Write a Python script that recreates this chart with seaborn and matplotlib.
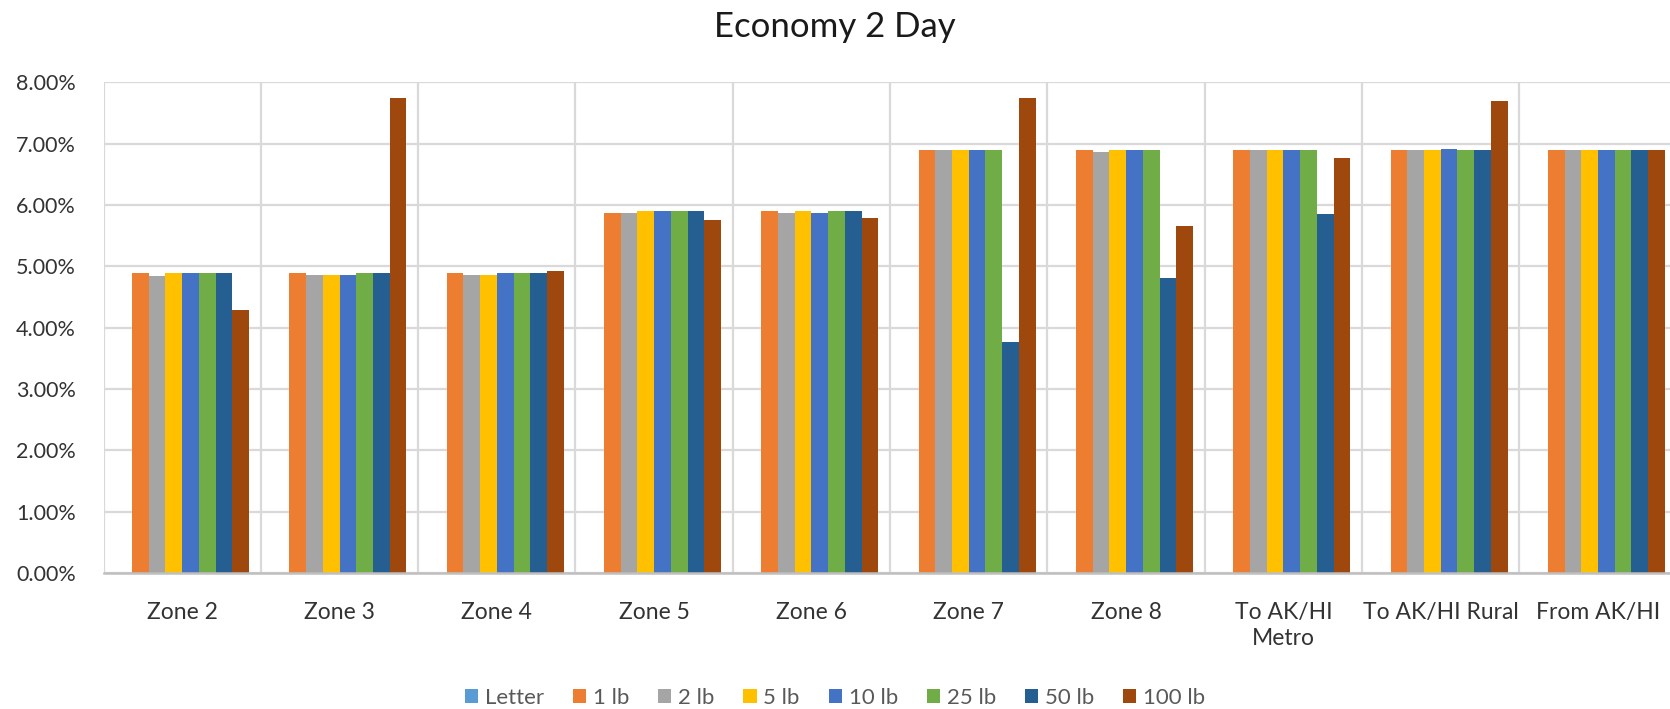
import matplotlib
matplotlib.use("Agg")
import matplotlib.pyplot as plt
import seaborn as sns
import pandas as pd
import numpy as np
from matplotlib.patches import Patch
from matplotlib.ticker import FuncFormatter, MultipleLocator

categories = ["Zone 2", "Zone 3", "Zone 4", "Zone 5", "Zone 6", "Zone 7", "Zone 8",
              "To AK/HI\nMetro", "To AK/HI Rural", "From AK/HI"]
series = ["Letter", "1 lb", "2 lb", "5 lb", "10 lb", "25 lb", "50 lb", "100 lb"]

letter = [np.nan] * 10
lb1   = [4.89, 4.89, 4.89, 5.87, 5.90, 6.89, 6.89, 6.89, 6.89, 6.89]
lb2   = [4.84, 4.86, 4.86, 5.86, 5.87, 6.89, 6.87, 6.89, 6.89, 6.89]
lb5   = [4.89, 4.86, 4.86, 5.90, 5.90, 6.89, 6.89, 6.89, 6.89, 6.89]
lb10  = [4.89, 4.86, 4.89, 5.90, 5.87, 6.89, 6.89, 6.89, 6.91, 6.89]
lb25  = [4.89, 4.89, 4.89, 5.90, 5.90, 6.89, 6.89, 6.89, 6.89, 6.89]
lb50  = [4.89, 4.89, 4.89, 5.90, 5.90, 3.77, 4.81, 5.85, 6.89, 6.89]
lb100 = [4.29, 7.74, 4.93, 5.76, 5.78, 7.74, 5.65, 6.77, 7.69, 6.89]

colors = ["#5B9BD5", "#ED7D31", "#A5A5A5", "#FFC000", "#4472C4", "#70AD47", "#255E91", "#9E480E"]

values = [letter, lb1, lb2, lb5, lb10, lb25, lb50, lb100]
rows = []
for s, vals in zip(series, values):
    for c, v in zip(categories, vals):
        rows.append({"category": c, "series": s, "value": v})
df = pd.DataFrame(rows)

sns.set_theme(style="white")
plt.rcParams['font.family'] = ['Lato', 'DejaVu Sans']

fig = plt.figure(figsize=(16.7, 7.09), dpi=100)
ax = fig.add_axes([0.062, 0.192, 0.942, 0.692])

sns.barplot(data=df, x="category", y="value", hue="series", order=categories,
            hue_order=series, palette=colors, width=0.85, linewidth=0,
            saturation=1, ax=ax, legend=False)

ax.set_xlim(-0.5, 9.5)
ax.set_ylim(0, 8)
ax.yaxis.set_major_locator(MultipleLocator(1))
ax.yaxis.set_major_formatter(FuncFormatter(lambda v, p: f"{v:.2f}%"))
ax.set_xticks(np.arange(-0.5, 10, 1.0), minor=True)
ax.grid(axis="y", which="major", color="#D9D9D9", linewidth=1.6)
ax.grid(axis="x", which="minor", color="#D9D9D9", linewidth=1.6)
ax.grid(axis="x", which="major", visible=False)
ax.set_axisbelow(True)
for side in ["left", "right", "top"]:
    ax.spines[side].set_visible(False)
ax.spines["bottom"].set_color("#BFBFBF")
ax.spines["bottom"].set_linewidth(1.8)
ax.set_xlabel("")
ax.set_ylabel("")
ax.tick_params(axis="both", which="both", length=0)
ax.tick_params(axis="y", pad=20, labelsize=15.5, labelcolor="#333333")
ax.tick_params(axis="x", pad=21, labelsize=16.5, labelcolor="#333333")
for lbl in ax.get_xticklabels():
    lbl.set_linespacing(1.3)

fig.suptitle("Economy 2 Day", x=0.5, y=0.985, fontsize=25, color="#1a1a1a")

handles = [Patch(facecolor=c, edgecolor="none") for c in colors]
fig.legend(handles, series, loc="center", bbox_to_anchor=(0.5, 0.016), ncol=8,
           frameon=False, fontsize=16, labelcolor="#595959", handlelength=0.6,
           handleheight=0.6, handletextpad=0.3, columnspacing=1.3)

fig.savefig("out.png", dpi=100)
